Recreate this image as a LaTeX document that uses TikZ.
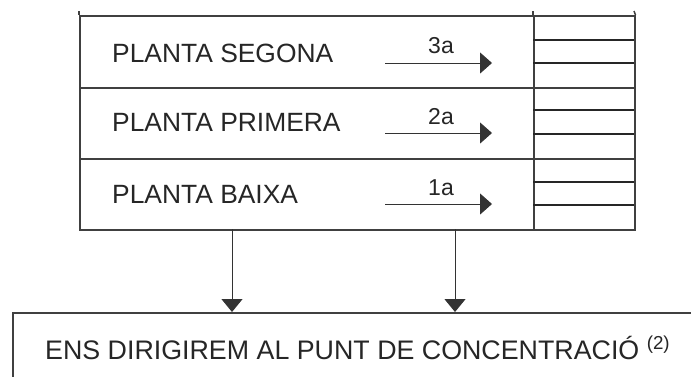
\documentclass[tikz,border=0pt]{standalone}
\usepackage{fontspec}
\setmainfont{Liberation Sans}
\usetikzlibrary{arrows.meta}
\begin{document}
\begin{tikzpicture}[x=1pt,y=-1pt,
  frame/.style={draw=black!75, line width=1.5pt},
  cell/.style={frame, inner sep=0pt, anchor=north west, minimum width=454pt},
  stair/.style={frame, inner sep=0pt, anchor=north west, minimum width=101pt},
  floortext/.style={inner sep=0pt, anchor=base west, text=black!85, font=\fontsize{26.4pt}{30pt}\selectfont},
  desttext/.style={inner sep=0pt, anchor=base west, text=black!85, font=\fontsize{26.8pt}{30pt}\selectfont},
  numtext/.style={inner sep=0pt, anchor=base, text=black!85, font=\fontsize{23pt}{26pt}\selectfont},
  goarrow/.style={draw=black!80, line width=1pt, -{Triangle[length=12pt,width=21pt]}},
  downarrow/.style={draw=black!80, line width=1pt, -{Triangle[length=13pt,width=21pt]}},
  stepline/.style={draw=black!85, line width=1.3pt}
]
\useasboundingbox (0,0) rectangle (691,376);
\clip (0,0) rectangle (691,376);
\fill[white] (0,0) rectangle (691,376);

% floors
\node[cell, minimum height=72pt] (row3) at (79,15) {};
\node[cell, minimum height=71pt] (row2) at (79,87) {};
\node[cell, minimum height=71pt] (row1) at (79,158) {};

% stairs
\node[stair, minimum height=72pt] (st3) at (533,15) {};
\node[stair, minimum height=71pt] (st2) at (533,87) {};
\node[stair, minimum height=71pt] (st1) at (533,158) {};
\draw[frame] (79,11) -- (row3.north west);
\draw[frame] (533,11) -- (st3.north west);
\draw[frame] (634,11) -- (st3.north east);
\foreach \yy in {40,63,110,134,182,205}{
  \draw[stepline] (533,\yy) -- (634,\yy);
}

% labels
\node[floortext] (t3) at (112,62) {PLANTA SEGONA};
\node[floortext] (t2) at (112,131.5) {PLANTA PRIMERA};
\node[floortext] (t1) at (112,203) {PLANTA BAIXA};

\node[numtext] (n3) at (441,53) {3a};
\node[numtext] (n2) at (441,124) {2a};
\node[numtext] (n1) at (441,195) {1a};

\coordinate (a3s) at (385,63);  \coordinate (a3e) at (492,63);
\coordinate (a2s) at (385,133); \coordinate (a2e) at (492,133);
\coordinate (a1s) at (385,204); \coordinate (a1e) at (492,204);
\draw[goarrow] (a3s) -- (a3e);
\draw[goarrow] (a2s) -- (a2e);
\draw[goarrow] (a1s) -- (a1e);

% bottom box
\node[frame, inner sep=0pt, anchor=north west, minimum width=800pt, minimum height=120pt] (dest) at (12,312) {};
\node[desttext] (dt) at (45,359) {ENS DIRIGIREM AL PUNT DE CONCENTRACIÓ \textsuperscript{(2)}};

\coordinate (d1s) at (232,229); \coordinate (d2s) at (455,229);
\draw[downarrow] (d1s) -- (d1s |- dest.north);
\draw[downarrow] (d2s) -- (d2s |- dest.north);
\end{tikzpicture}
\end{document}
